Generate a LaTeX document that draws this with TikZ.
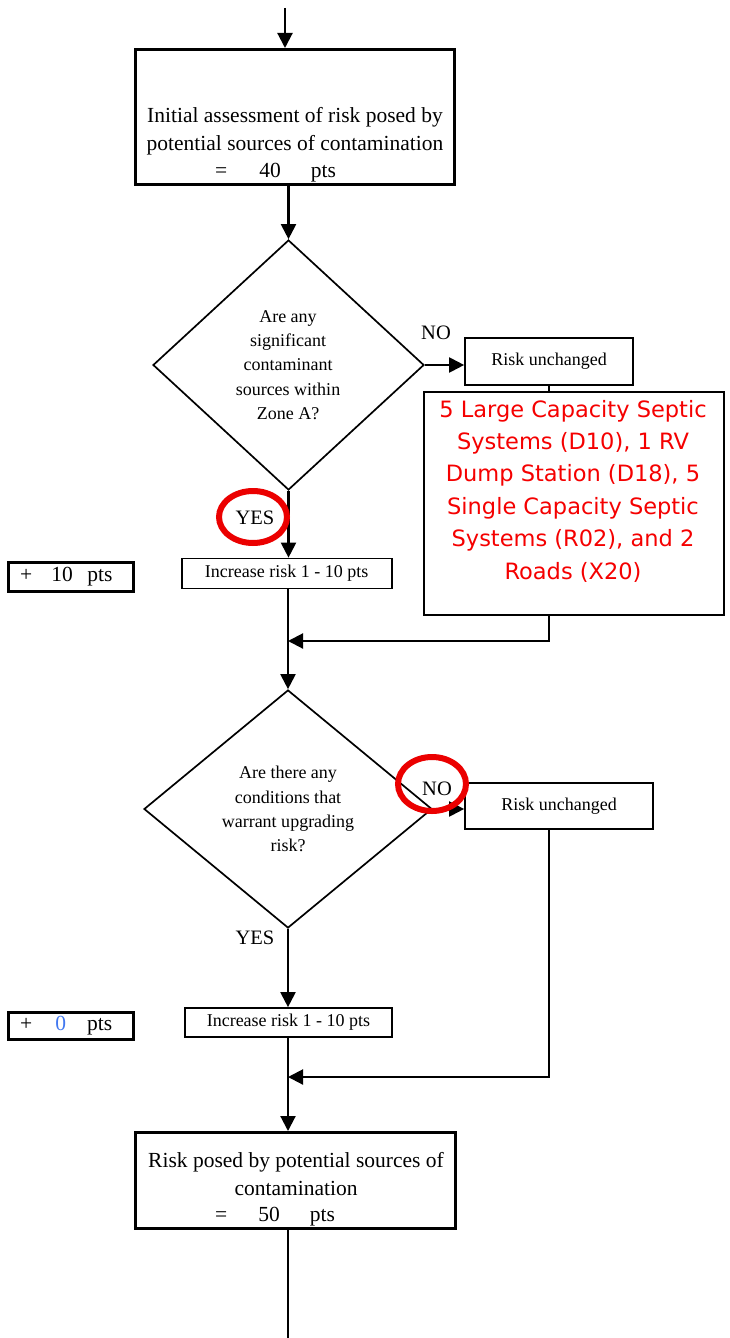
\documentclass[tikz,border=0pt]{standalone}
\usepackage{fontspec}
\setmainfont{Liberation Serif}
\newfontfamily\redfont{DejaVu Sans}
\usetikzlibrary{arrows.meta,shapes.geometric}
\definecolor{ptsblue}{RGB}{66,120,240}
\definecolor{markred}{RGB}{235,0,0}
\definecolor{textred}{RGB}{245,0,0}
\begin{document}
\begin{tikzpicture}[x=1pt,y=-1pt,
  conn/.style={line width=2.1pt},
  arr/.style={conn,-{Triangle[width=15pt,length=15pt]}},
  thickbox/.style={draw,line width=3pt,inner sep=0pt},
  thinbox/.style={draw,line width=1.7pt,inner sep=0pt,font=\fontsize{18}{22}\selectfont},
  plusbox/.style={draw,line width=2.8pt,inner sep=0pt},
  dia/.style={draw,diamond,line width=1.7pt,inner sep=0pt},
  bigtxt/.style={font=\fontsize{21.5}{28}\selectfont,align=center,inner sep=0pt},
  diatxt/.style={font=\fontsize{18}{24.2}\selectfont,align=center,inner sep=0pt},
  lbl/.style={font=\fontsize{20.5}{24}\selectfont,inner sep=0pt},
  redtxt/.style={font=\redfont\fontsize{22.5}{32.4}\selectfont,text=textred,align=center,inner sep=0pt},
  ring/.style={draw=markred,ellipse,line width=6pt,inner sep=0pt}
]
\fill[white] (0,0) rectangle (730,1338);
\useasboundingbox (0,0) rectangle (730,1338);

% boxes
\node[thickbox,minimum width=319pt,minimum height=135pt] (b1) at (295,117) {};
\node[bigtxt] (b1t) at (295,131) {Initial assessment of risk posed by\\potential sources of contamination};
\node[bigtxt,anchor=west] (b1v) at (215,173) {=\hspace{32pt}40\hspace{30pt}pts};

\node[dia,minimum width=271pt,minimum height=250pt] (d1) at (288.5,365) {};
\node[diatxt] (d1t) at (288,365) {Are any\\significant\\contaminant\\sources within\\Zone A?};

\node[thinbox,minimum width=168pt,minimum height=47pt] (ru1) at (549,361.5) {Risk unchanged};
\node[thinbox,minimum width=300pt,minimum height=223pt] (rb) at (574,503.5) {};
\node[redtxt] (rbt) at (573,491) {5 Large Capacity Septic\\Systems (D10), 1 RV\\Dump Station (D18), 5\\Single Capacity Septic\\Systems (R02), and 2\\Roads (X20)};

\node[thinbox,minimum width=210pt,minimum height=30pt] (inc1) at (286.7,573.5) {Increase risk 1 - 10 pts};
\node[plusbox,minimum width=125pt,minimum height=29pt] (p1) at (71,577) {};
\node[bigtxt,anchor=west] (p1t) at (20,577) {+\hspace{19pt}10\hspace{14.5pt}pts};

\node[dia,minimum width=288pt,minimum height=238pt] (d2) at (288,809) {};
\node[diatxt] (d2t) at (288,809) {Are there any\\conditions that\\warrant upgrading\\risk?};

\node[thinbox,minimum width=188pt,minimum height=46pt] (ru2) at (559,806) {Risk unchanged};

\node[thinbox,minimum width=207pt,minimum height=29pt] (inc2) at (288.5,1022.5) {Increase risk 1 - 10 pts};
\node[plusbox,minimum width=125pt,minimum height=27pt] (p2) at (71,1026) {};
\node[bigtxt,anchor=west] (p2t) at (20,1026) {+\hspace{23pt}\textcolor{ptsblue}{0}\hspace{21pt}pts};

\node[thickbox,minimum width=320pt,minimum height=96pt] (b2) at (295.5,1180.5) {};
\node[bigtxt] (b2t) at (296,1174) {Risk posed by potential sources of\\contamination};
\node[bigtxt,anchor=west] (b2v) at (215,1217) {=\hspace{31pt}50\hspace{30pt}pts};

% labels
\node[lbl] (no1) at (436,333) {NO};
\node[lbl] (yes1) at (255,518) {YES};
\node[lbl] (no2) at (437,789) {NO};
\node[lbl] (yes2) at (255,938) {YES};

% connectors
\coordinate (top) at (285,8);
\coordinate (j1) at (288,641);
\coordinate (j2) at (288,1077);
\coordinate (bot) at (288,1338);
\draw[arr] (top) -- (top |- b1.north);
\draw[arr] (b1.south -| d1.north) -- (d1.north);
\draw[arr] (d1.east) -- (d1.east -| ru1.west);
\draw[conn] (ru1.south) -- (ru1.south |- rb.north);
\draw[arr] (d1.south) -- (d1.south |- inc1.north);
\draw[arr] (rb.south -| ru1.south) |- (j1);
\draw[arr] (inc1.south -| d2.north) -- (d2.north);
\draw[arr] (d2.east) -- (d2.east -| ru2.west);
\draw[arr] (d2.south) -- (d2.south |- inc2.north);
\draw[arr] (ru2.south -| ru1.south) |- (j2);
\draw[arr] (inc2.south -| d2.south) -- (b2.north -| d2.south);
\draw[conn] (b2.south -| bot) -- (bot);

% red rings
\node[ring,minimum width=68pt,minimum height=52pt] (c1) at (253,517) {};
\node[ring,minimum width=68pt,minimum height=54pt] (c2) at (432,784) {};
\end{tikzpicture}
\end{document}
